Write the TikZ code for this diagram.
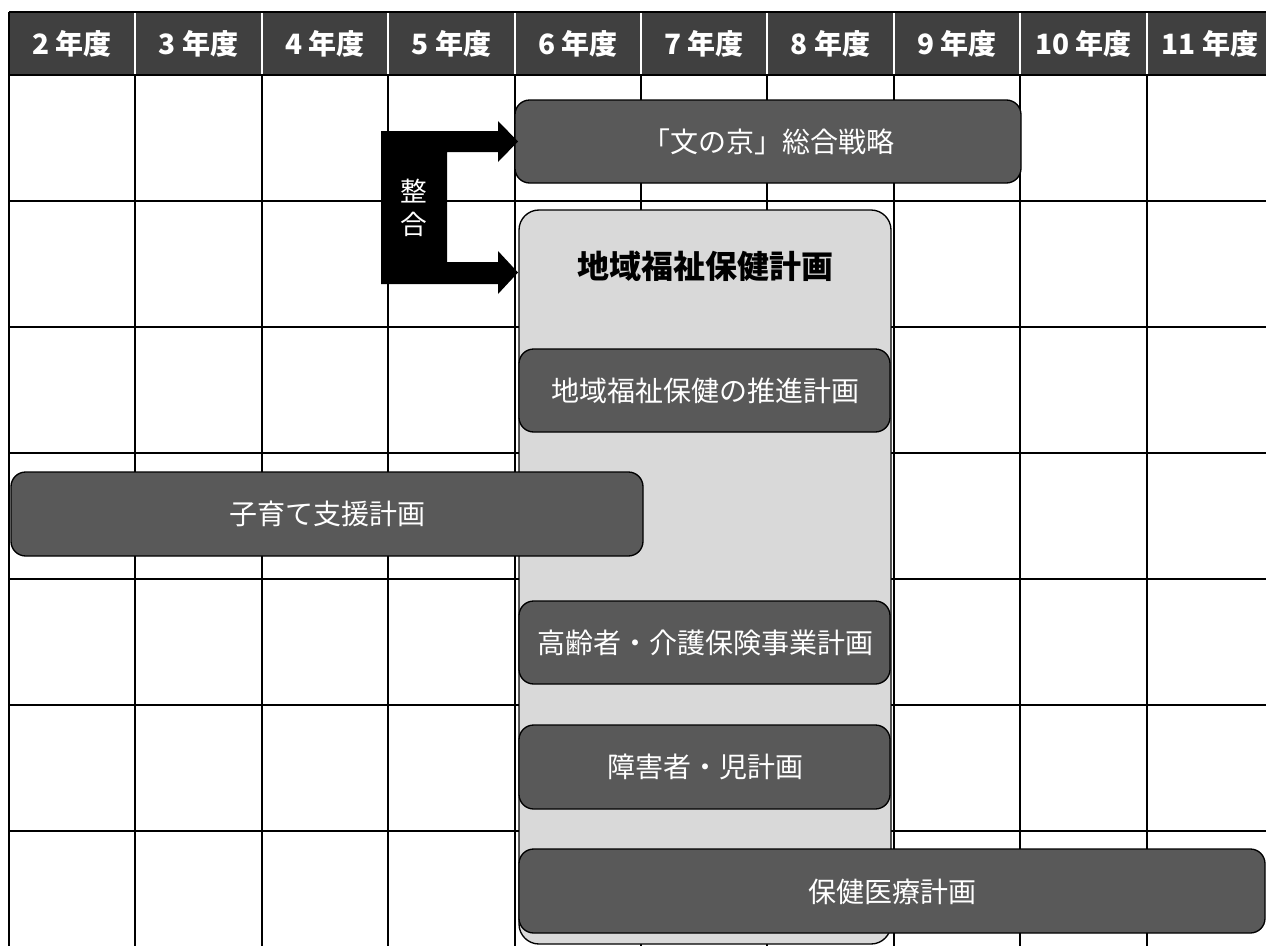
\documentclass[tikz,border=0pt]{standalone}
\usepackage{fontspec}
\setmainfont{Noto Sans CJK JP}
\definecolor{headfill}{HTML}{404040}
\definecolor{planfill}{HTML}{595959}
\definecolor{basefill}{HTML}{D9D9D9}
\tikzset{
	plan/.style={draw=black, line width=1pt, fill=planfill, rounded corners=11pt},
	plantext/.style={text=white, font=\fontsize{21}{25}\selectfont},
	yeartext/.style={text=white, font=\bfseries\fontsize{21}{25}\selectfont}
}
\begin{document}
\begin{tikzpicture}[x=0.75pt, y=-0.75pt]
	\useasboundingbox (0, 0) rectangle (1266, 946);
	\fill[headfill] (9, 12) rectangle (1275, 75);
	\foreach \lab [count=\i from 0] in {2 年度, 3 年度, 4 年度, 5 年度, 6 年度, 7 年度, 8 年度, 9 年度, 10 年度, 11 年度}
		\node[yeartext] (h\i) at (9 + 126.4*\i + 63.2, 44) {\lab};
	\foreach \i in {1, ..., 9} {
		\draw[white, line width=1.5pt] (9 + 126.4*\i, 12) -- (9 + 126.4*\i, 75);
		\draw[line width=1.5pt] (9 + 126.4*\i, 75) -- (9 + 126.4*\i, 946);
	}
	\foreach \y in {75, 201, 327, 453, 579, 705, 831}
		\draw[line width=1.5pt] (9, \y) -- (1266, \y);
	\draw[line width=1.5pt] (9, 12) -- (1266, 12);
	\draw[line width=1.5pt] (9, 12) -- (9, 946);
	\draw[fill=basefill, line width=1pt, rounded corners=15pt] (519, 210) rectangle (891, 944);
	\node[font=\bfseries\fontsize{24}{28}\selectfont] (kihon) at (705, 266) {地域福祉保健計画};
	\draw[plan] (515, 100) rectangle (1021, 183);
	\node[plantext] (bunkyo) at (768, 142) {「文の京」総合戦略};
	\draw[plan] (519, 349) rectangle (890, 432);
	\node[plantext] (suishin) at (705, 391) {地域福祉保健の推進計画};
	\draw[plan] (11, 472) rectangle (643, 556);
	\node[plantext] (kosodate) at (327, 514) {子育て支援計画};
	\draw[plan] (519, 601) rectangle (890, 684);
	\node[plantext] (kourei) at (705, 643) {高齢者・介護保険事業計画};
	\draw[plan] (519, 725) rectangle (890, 809);
	\node[plantext] (shougai) at (705, 767) {障害者・児計画};
	\draw[plan] (519, 849) rectangle (1265, 933);
	\node[plantext] (iryou) at (892, 892) {保健医療計画};
	\fill (381, 131) -- (498, 131) -- (498, 121) -- (518, 141.5) -- (498, 162) -- (498, 152)
		-- (447, 152) -- (447, 262) -- (498, 262) -- (498, 251) -- (518, 272.5) -- (498, 294)
		-- (498, 284) -- (381, 284) -- cycle;
	\node[text=white, align=center, font=\fontsize{20}{25}\selectfont] (seigou) at (414, 208) {整\\合};
\end{tikzpicture}
\end{document}
